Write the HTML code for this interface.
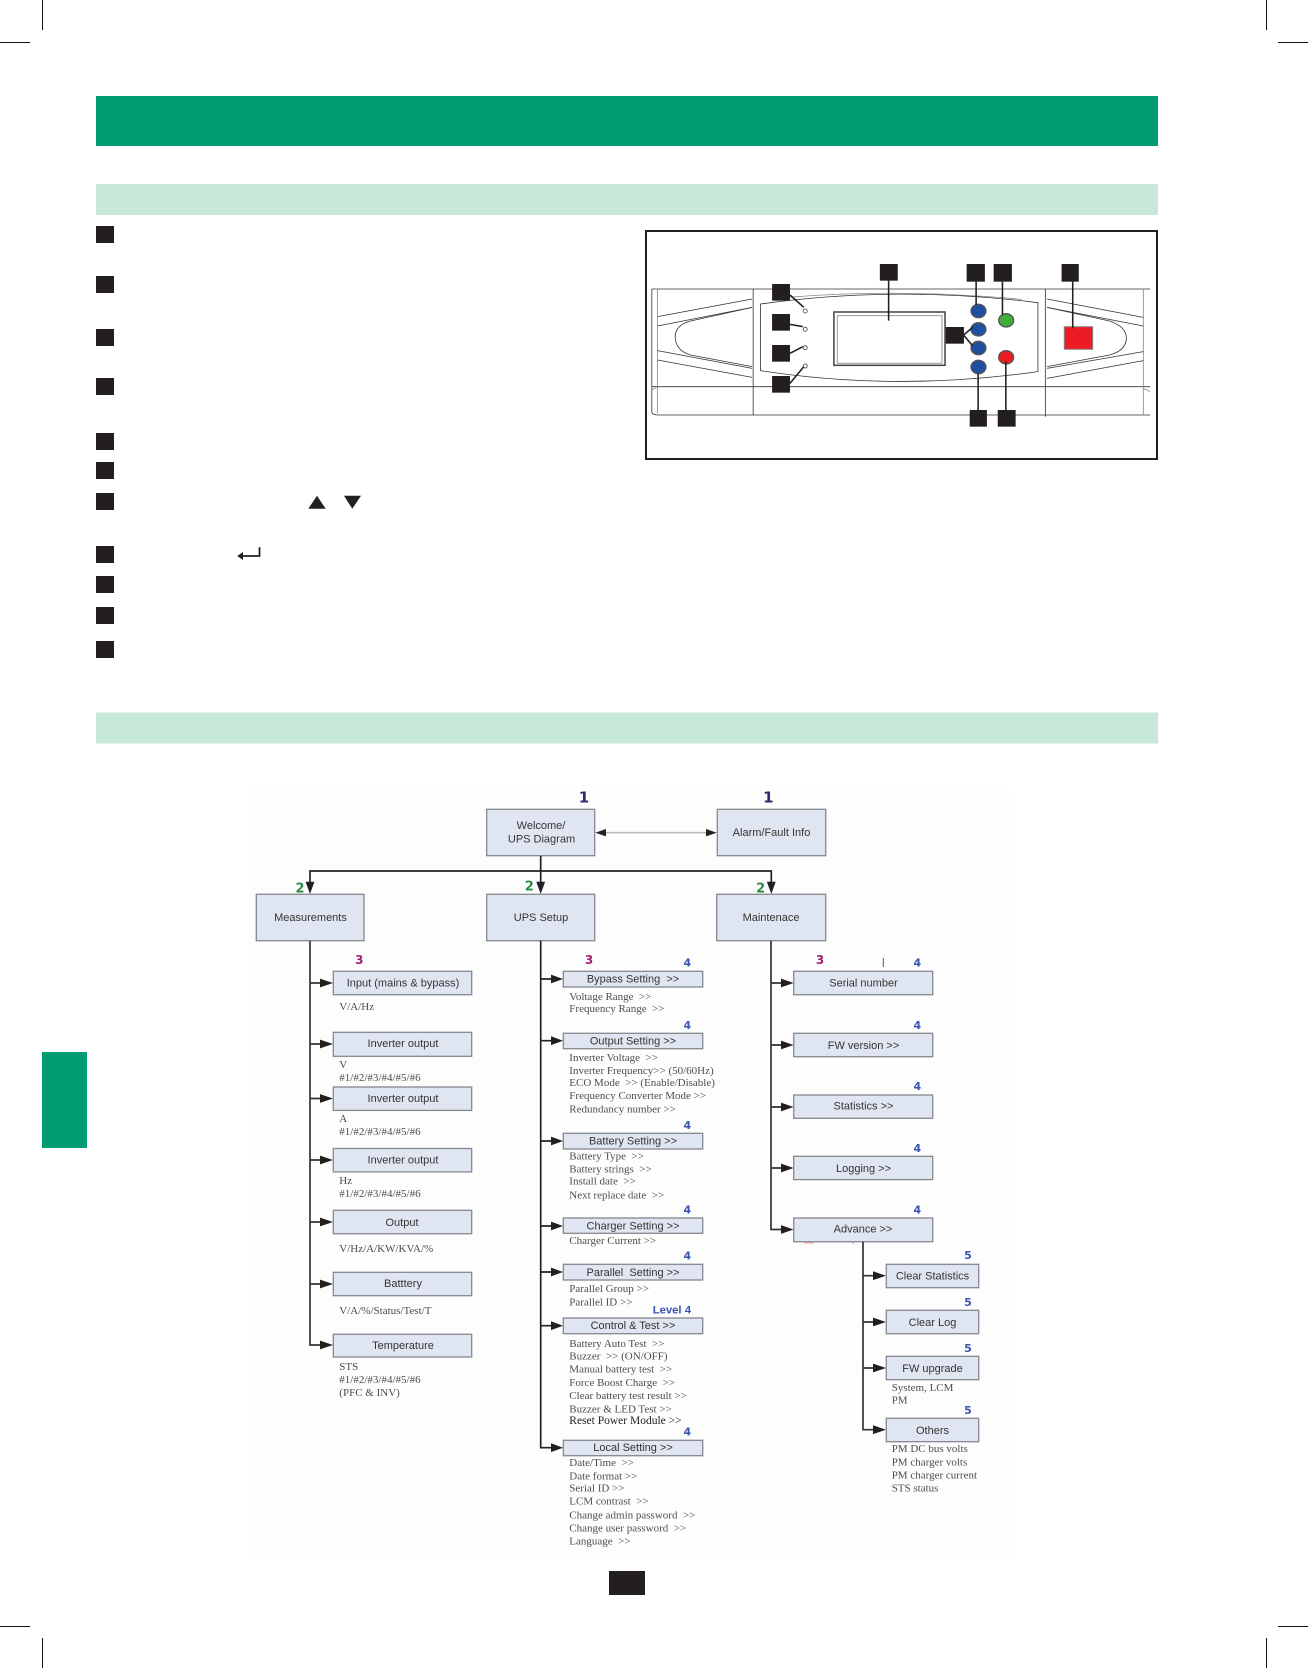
<!DOCTYPE html>
<html lang="en"><head><meta charset="utf-8"><title>UPS control panel and LCD menu tree</title>
<style>
html,body{margin:0;padding:0;background:#fff}
svg{display:block}
.b{fill:#e0e6f1;stroke:#85888f;stroke-width:1.3}
.s{font:11px "Liberation Sans",sans-serif;fill:#333;text-anchor:middle}
.t{font:11px "Liberation Serif",serif;fill:#4d4d4d}
.n{font:bold 11px "DejaVu Sans",sans-serif;text-anchor:middle;fill:#3a55b0}
.l{stroke:#222;stroke-width:1.7;fill:none}
.p{stroke:#333;stroke-width:2.4;fill:none}
.p2{stroke:#888;stroke-width:2.4;fill:none}
.k{fill:#231f20}
.c{stroke:#231f20;stroke-width:4.6;fill:none}
.soft{filter:blur(.3px)}
</style></head><body>
<svg width="1308" height="1668" viewBox="0 0 1308 1668" xmlns="http://www.w3.org/2000/svg">
<rect width="1308" height="1668" fill="#fff"/>
<rect x="250" y="790" width="760" height="770" fill="#fdfdfd"/>
<g stroke="#111" stroke-width="1"><path d="M42.5 0V30M0 42.5H30M1266.5 0V30M1278 42.5H1308M42.5 1638V1668M0 1626.5H30M1266.5 1638V1668M1278 1626.5H1308"/></g>
<rect x="96" y="96" width="1062" height="50" fill="#009b73"/>
<rect x="96" y="184" width="1062" height="31" fill="#c8e9d9"/>
<rect x="96" y="712.5" width="1062" height="31" fill="#c8e9d9"/>
<rect x="42" y="1052" width="45" height="96" fill="#009b73"/>
<rect x="609" y="1571" width="36" height="24" class="k"/>
<g class="k">
<rect x="96" y="226" width="18" height="17"/><rect x="96" y="276" width="18" height="17"/><rect x="96" y="329" width="18" height="17"/><rect x="96" y="378" width="18" height="17"/><rect x="96" y="433" width="18" height="17"/><rect x="96" y="462" width="18" height="17"/><rect x="96" y="493" width="18" height="17"/><rect x="96" y="546" width="18" height="17"/><rect x="96" y="576" width="18" height="17"/><rect x="96" y="607" width="18" height="17"/><rect x="96" y="641" width="18" height="17"/>
<path d="M308.3 508.7H325.7L317 495.7ZM344 495.7H361L352.3 508.7Z"/>
<path d="M237.3 556L243 552V560Z"/>
</g>
<path d="M259.5 547.3V556H240" fill="none" stroke="#231f20" stroke-width="1.8"/>

<rect x="646" y="231" width="511" height="228" fill="#fff" stroke="#231f20" stroke-width="2"/>
<g transform="translate(640,220) scale(.3378,.33333)">
<path class="p" d="M35 207H1510M335 207V585M1200 207V590M35 207V575Q35 585 55 585H1510M35 500H1510"/>
<path class="p2" d="M52 207V580M1490 207V585M35 510L52 500M1510 515L1490 505"/>
<path class="p" d="M52 290L332 237M52 318L332 262M52 392L332 445M52 420L332 472M1205 237L1490 292M1205 262L1490 318M1205 445L1490 395M1205 475L1490 422"/>
<path class="p" d="M332 262L150 303Q105 315 104 350Q105 392 150 405L332 440"/>
<path class="p" d="M1205 262L1390 303Q1440 320 1440 355Q1438 392 1390 405L1205 440"/>
<path class="p" d="M357 252Q760 195 1178 248V455Q760 515 357 452Z"/>
<path class="p2" d="M440 232Q760 205 1130 238"/>
<rect x="574" y="276" width="329" height="160" fill="#fff" stroke="#444" stroke-width="4.5"/>
<rect x="584" y="287" width="310" height="143" fill="#fff" stroke="#999" stroke-width="3"/>
<g fill="#fff" stroke="#444" stroke-width="2.5"><circle cx="489" cy="273" r="6"/><circle cx="489" cy="328" r="6"/><circle cx="489" cy="383" r="6"/><circle cx="489" cy="438" r="6"/></g>
<g fill="#1f4fa0" stroke="#555" stroke-width="4"><ellipse cx="1002" cy="273" rx="22" ry="20"/><ellipse cx="1002" cy="328" rx="22" ry="20"/><ellipse cx="1002" cy="384" rx="22" ry="20"/><ellipse cx="1002" cy="441" rx="22" ry="20"/></g>
<ellipse cx="1084" cy="301" rx="22" ry="20" fill="#3fae3a" stroke="#555" stroke-width="4"/>
<ellipse cx="1084" cy="412" rx="22" ry="20" fill="#ed1c24" stroke="#555" stroke-width="4"/>
<rect x="1256" y="320" width="84" height="68" fill="#ed1c24" stroke="#888" stroke-width="3"/>
<path class="c" d="M736 182V302M995 185V255M1073 185V285M1281 185V325M444 225L485 262M444 313L482 320M444 400L482 380M444 490L485 440M958 345L985 322M958 345L985 378M1001 460V570M1083 425V570"/>
<g class="k"><rect x="710" y="132" width="53" height="50"/><rect x="967" y="132" width="54" height="53"/><rect x="1047" y="132" width="54" height="53"/><rect x="1248" y="132" width="51" height="53"/><rect x="391" y="192" width="53" height="50"/><rect x="391" y="282" width="53" height="50"/><rect x="391" y="375" width="53" height="50"/><rect x="391" y="468" width="53" height="50"/><rect x="905" y="321" width="54" height="50"/><rect x="976" y="570" width="51" height="50"/><rect x="1059" y="570" width="53" height="50"/></g>
</g>

<g class="soft">
<g>
<rect class="b" x="486.7" y="809.3" width="108" height="46.4"/><rect class="b" x="717.3" y="809.3" width="108.4" height="46.4"/>
<rect class="b" x="256.3" y="894.3" width="107.7" height="46.4"/><rect class="b" x="486.7" y="894.3" width="108" height="46.4"/><rect class="b" x="716.7" y="894.3" width="109" height="46.4"/>
<rect class="b" x="333.3" y="971.3" width="138.4" height="23.4"/><rect class="b" x="333.3" y="1032.3" width="138.4" height="24"/><rect class="b" x="333.3" y="1087" width="138.4" height="23.4"/><rect class="b" x="333.3" y="1148.5" width="138.4" height="23.4"/><rect class="b" x="333.3" y="1210.3" width="138.4" height="23.4"/><rect class="b" x="333.3" y="1272.3" width="138.4" height="23.4"/><rect class="b" x="333.3" y="1334.3" width="138.4" height="22.7"/>
<rect class="b" x="563.3" y="971.3" width="139.4" height="15.7"/><rect class="b" x="563.3" y="1033.3" width="139.4" height="15.4"/><rect class="b" x="563.3" y="1133.3" width="139.4" height="15.7"/><rect class="b" x="563.3" y="1218" width="139.4" height="15.3"/><rect class="b" x="563.3" y="1264.3" width="139.4" height="15.7"/><rect class="b" x="563.3" y="1318" width="139.4" height="15.7"/><rect class="b" x="563.3" y="1440.3" width="139.4" height="15.4"/>
<rect class="b" x="793.7" y="971.3" width="139" height="23.4"/><rect class="b" x="793.7" y="1033.3" width="139" height="23.4"/><rect class="b" x="793.7" y="1095" width="139" height="23.3"/><rect class="b" x="793.7" y="1156.3" width="139" height="23.3"/><rect class="b" x="793.7" y="1218" width="139" height="23.7"/>
<rect class="b" x="886.3" y="1264.3" width="92.4" height="23.4"/><rect class="b" x="886.3" y="1310.3" width="92.4" height="23.4"/><rect class="b" x="886.3" y="1356.3" width="92.4" height="23.4"/><rect class="b" x="886.3" y="1418.3" width="92.4" height="23.4"/>
</g>

<path d="M600 832.7H712" stroke="#bbb" stroke-width="1.6" fill="none"/>
<path class="k" d="M595.3 832.7L606 829V836.4ZM716.7 832.7L706 829V836.4Z"/>
<path class="l" d="M310 882V871H771.3V882M540.7 855.7V884"/>
<path class="l" style="stroke:#333" d="M310 940.7V1345H322M310 983H322M310 1044H322M310 1098.5H322M310 1160H322M310 1222H322M310 1284H322"/>
<path class="l" d="M540.7 940.7V1447.7H553M540.7 979H553M540.7 1040.7H553M540.7 1141H553M540.7 1226H553M540.7 1272H553M540.7 1325.7H553"/>
<path class="l" style="stroke:#333" d="M771 940.7V1229.5H783M771 983H783M771 1045H783M771 1107H783M771 1168H783"/>
<path class="l" style="stroke:#333" d="M863 1241.7V1429.7H875M863 1275.7H875M863 1322H875M863 1368H875"/>
<g class="k">
<path d="M305.6 881.7H314.4L310 894ZM536.3 881.7H545.1L540.7 894ZM766.9 881.7H775.7L771.3 894Z"/>
<path d="M320 978.6L333 983L320 987.4ZM320 1039.6L333 1044L320 1048.4ZM320 1094.1L333 1098.5L320 1102.9ZM320 1155.6L333 1160L320 1164.4ZM320 1217.6L333 1222L320 1226.4ZM320 1279.6L333 1284L320 1288.4ZM320 1340.6L333 1345L320 1349.4Z"/>
<path d="M551 974.6L563 979L551 983.4ZM551 1036.3L563 1040.7L551 1045.1ZM551 1136.6L563 1141L551 1145.4ZM551 1221.6L563 1226L551 1230.4ZM551 1267.6L563 1272L551 1276.4ZM551 1321.3L563 1325.7L551 1330.1ZM551 1443.3L563 1447.7L551 1452.1Z"/>
<path d="M781 978.6L793.5 983L781 987.4ZM781 1040.6L793.5 1045L781 1049.4ZM781 1102.6L793.5 1107L781 1111.4ZM781 1163.6L793.5 1168L781 1172.4ZM781 1225.1L793.5 1229.5L781 1233.9Z"/>
<path d="M873 1271.3L886 1275.7L873 1280.1ZM873 1317.6L886 1322L873 1326.4ZM873 1363.6L886 1368L873 1372.4ZM873 1425.3L886 1429.7L873 1434.1Z"/>
</g>
<path d="M804 1243H814M852 1243H854" stroke="#f4a0a0" stroke-width="1"/>
<path d="M883.3 958V967" stroke="#3a55b0" stroke-width="1"/>

<g class="s">
<text x="541" y="829">Welcome/</text><text x="541.5" y="842.5">UPS Diagram</text>
<text x="771.5" y="836">Alarm/Fault Info</text>
<text x="310.5" y="921">Measurements</text><text x="541" y="921">UPS Setup</text><text x="771" y="921">Maintenace</text>
<text x="403" y="986.5">Input (mains &amp; bypass)</text><text x="403" y="1047">Inverter output</text><text x="403" y="1102">Inverter output</text><text x="403" y="1163.5">Inverter output</text><text x="402" y="1226">Output</text><text x="403" y="1287">Batttery</text><text x="403" y="1349">Temperature</text>
<text x="633" y="982.5" xml:space="preserve">Bypass Setting  &gt;&gt;</text><text x="633" y="1044.5">Output Setting &gt;&gt;</text><text x="633" y="1144.5">Battery Setting &gt;&gt;</text><text x="633" y="1229.5">Charger Setting &gt;&gt;</text><text x="633" y="1276" xml:space="preserve">Parallel  Setting &gt;&gt;</text><text x="633" y="1329">Control &amp; Test &gt;&gt;</text><text x="633" y="1451">Local Setting &gt;&gt;</text>
<text x="863.5" y="986.5">Serial number</text><text x="863.5" y="1049">FW version &gt;&gt;</text><text x="863.5" y="1109.5">Statistics &gt;&gt;</text><text x="863.5" y="1172">Logging &gt;&gt;</text><text x="863" y="1232.5">Advance &gt;&gt;</text>
<text x="932.5" y="1279.5">Clear Statistics</text><text x="932.5" y="1326">Clear Log</text><text x="932.5" y="1372">FW upgrade</text><text x="932.5" y="1434">Others</text>
</g>

<g class="t">
<text x="339.3" y="1010">V/A/Hz</text><text x="339.3" y="1068">V</text><text x="339.3" y="1081">#1/#2/#3/#4/#5/#6</text><text x="339.3" y="1122">A</text><text x="339.3" y="1135">#1/#2/#3/#4/#5/#6</text><text x="339.3" y="1184">Hz</text><text x="339.3" y="1197">#1/#2/#3/#4/#5/#6</text><text x="339.3" y="1252">V/Hz/A/KW/KVA/%</text><text x="339.3" y="1314">V/A/%/Status/Test/T</text><text x="339.3" y="1370">STS</text><text x="339.3" y="1383">#1/#2/#3/#4/#5/#6</text><text x="339.3" y="1396">(PFC &amp; INV)</text>
<text x="569.3" y="1000" xml:space="preserve">Voltage Range  &gt;&gt;</text><text x="569.3" y="1012" xml:space="preserve">Frequency Range  &gt;&gt;</text>
<text x="569.3" y="1061" xml:space="preserve">Inverter Voltage  &gt;&gt;</text><text x="569.3" y="1074">Inverter Frequency&gt;&gt; (50/60Hz)</text><text x="569.3" y="1086" xml:space="preserve">ECO Mode  &gt;&gt; (Enable/Disable)</text><text x="569.3" y="1099">Frequency Converter Mode &gt;&gt;</text><text x="569.3" y="1112.7">Redundancy number  &gt;&gt;</text>
<text x="569.3" y="1159.3" xml:space="preserve">Battery Type  &gt;&gt;</text><text x="569.3" y="1172.7" xml:space="preserve">Battery strings  &gt;&gt;</text><text x="569.3" y="1184.7" xml:space="preserve">Install date  &gt;&gt;</text><text x="569.3" y="1198.3" xml:space="preserve">Next replace date  &gt;&gt;</text>
<text x="569.3" y="1244">Charger Current &gt;&gt;</text>
<text x="569.3" y="1292">Parallel Group &gt;&gt;</text><text x="569.3" y="1305.3">Parallel ID &gt;&gt;</text>
<text x="569.3" y="1347" xml:space="preserve">Battery Auto Test  &gt;&gt;</text><text x="569.3" y="1359.3" xml:space="preserve">Buzzer  &gt;&gt; (ON/OFF)</text><text x="569.3" y="1372.7" xml:space="preserve">Manual battery test  &gt;&gt;</text><text x="569.3" y="1386" xml:space="preserve">Force Boost Charge  &gt;&gt;</text><text x="569.3" y="1399">Clear battery test result &gt;&gt;</text><text x="569.3" y="1412.3">Buzzer &amp; LED Test &gt;&gt;</text><text x="569.3" y="1424" style="fill:#222;font-size:11.5px">Reset Power Module &gt;&gt;</text>
<text x="569.3" y="1466" xml:space="preserve">Date/Time  &gt;&gt;</text><text x="569.3" y="1479.7">Date format &gt;&gt;</text><text x="569.3" y="1491.7">Serial ID &gt;&gt;</text><text x="569.3" y="1504.7" xml:space="preserve">LCM contrast  &gt;&gt;</text><text x="569.3" y="1518.3" xml:space="preserve">Change admin password  &gt;&gt;</text><text x="569.3" y="1531.7" xml:space="preserve">Change user password  &gt;&gt;</text><text x="569.3" y="1544.3" xml:space="preserve">Language  &gt;&gt;</text>
<text x="891.7" y="1391">System, LCM</text><text x="891.7" y="1403.3">PM</text><text x="891.7" y="1452">PM DC bus volts</text><text x="891.7" y="1465.7">PM charger volts</text><text x="891.7" y="1478.7">PM charger current</text><text x="891.7" y="1491.7">STS status</text>
</g>

<g class="n">
<text x="584" y="802.7" style="font-size:15px;fill:#2b2d6e">1</text><text x="768.3" y="802.7" style="font-size:15px;fill:#2b2d6e">1</text>
<g style="font-size:13px"><text x="300" y="892.7" style="fill:#2e8b45">2</text><text x="529.3" y="890.7" style="fill:#2e8b45">2</text><text x="760.7" y="892.7" style="fill:#2e8b45">2</text></g>
<g style="font-size:12px"><text x="359.3" y="964" style="fill:#a0246e">3</text><text x="589" y="964" style="fill:#a0246e">3</text><text x="820" y="964" style="fill:#a0246e">3</text></g>
<text x="687.3" y="966.7">4</text><text x="687.3" y="1029">4</text><text x="687.3" y="1129">4</text><text x="687.3" y="1213.7">4</text><text x="687.3" y="1259.3">4</text><text x="687.3" y="1435.7">4</text>
<text x="691" y="1313.3" style="text-anchor:end;font:bold 11.3px 'Liberation Sans',sans-serif">Level 4</text>
<text x="917.3" y="966.7">4</text><text x="917.3" y="1029">4</text><text x="917.3" y="1090">4</text><text x="917.3" y="1152">4</text><text x="917.3" y="1213.3">4</text>
<text x="968" y="1259">5</text><text x="968" y="1306">5</text><text x="968" y="1352">5</text><text x="968" y="1414">5</text>
</g>
</g>
</svg>
</body></html>
